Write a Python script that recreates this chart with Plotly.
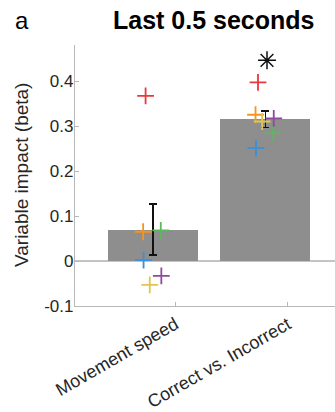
import plotly.graph_objects as go

categories = ["Movement speed", "Correct vs. Incorrect"]
bar_means = [0.070, 0.315]
bar_err = [0.057, 0.018]

subject_colors = ["#e8383d", "#f7941d", "#e3c54e", "#5cb85c", "#3f8fd2", "#8e4a9e"]
subject_jitter = [-0.065, -0.087, -0.028, 0.070, -0.083, 0.075]
movement_vals = [0.367, 0.065, -0.053, 0.068, 0.002, -0.033]
correct_vals = [0.397, 0.325, 0.310, 0.284, 0.251, 0.317]

star_y = 0.446
yticks = [-0.1, 0, 0.1, 0.2, 0.3, 0.4]
yticklabels = ["-0.1", "0", "0.1", "0.2", "0.3", "0.4"]

xpos = [1, 2]
txt = "#262626"
axc = "#b8b8b8"

fig = go.Figure()
fig.add_trace(go.Bar(
    x=xpos, y=bar_means, width=0.8,
    marker=dict(color="#8e8e8e", line=dict(width=0)),
    error_y=dict(type="data", array=bar_err, color="#111111", thickness=1.5, width=4),
    showlegend=False,
))
for i, c in enumerate(subject_colors):
    fig.add_trace(go.Scatter(
        x=[xpos[0] + subject_jitter[i], xpos[1] + subject_jitter[i]],
        y=[movement_vals[i], correct_vals[i]],
        mode="markers",
        marker=dict(symbol="cross-thin-open", size=12, line=dict(color=c, width=1.8), color=c),
        showlegend=False,
    ))
fig.add_trace(go.Scatter(
    x=[xpos[1] + 0.015], y=[star_y], mode="markers",
    marker=dict(symbol="asterisk-open", size=15, color="#111111",
                line=dict(color="#111111", width=1.5)),
    showlegend=False,
))

fig.update_layout(
    width=335, height=412,
    margin=dict(l=75, r=0, t=45, b=104),
    paper_bgcolor="white", plot_bgcolor="white",
    font=dict(family="Liberation Sans, Arial, sans-serif", color=txt, size=17),
    bargap=0,
    xaxis=dict(
        range=[0.307, 2.62],
        tickmode="array", tickvals=[xpos[0] + 0.2, xpos[1] + 0.2], ticktext=categories,
        tickangle=-30, ticks="inside", ticklen=4, tickcolor=axc,
        showline=True, linecolor=axc, linewidth=1.2,
        showgrid=False, zeroline=False,
        tickfont=dict(size=18, color=txt),
    ),
    yaxis=dict(
        range=[-0.1, 0.48],
        tickmode="array", tickvals=yticks, ticktext=yticklabels,
        ticks="inside", ticklen=4, tickcolor=axc,
        showline=True, linecolor=axc, linewidth=1.2,
        showgrid=False,
        zeroline=True, zerolinecolor="#c4c4c4", zerolinewidth=1.5,
        tickfont=dict(size=17, color=txt),
        ticklabelstandoff=-3,
    ),
    annotations=[
        dict(text="<b>Last 0.5 seconds</b>", x=213, y=20, xref="paper", yref="paper",
             showarrow=False, font=dict(size=25, color="#000000")),
        dict(text="a", x=22, y=20, xref="paper", yref="paper", showarrow=False,
             font=dict(size=24, color="#000000")),
        dict(text="Variable impact (beta)", x=21, y=176, xref="paper", yref="paper",
             showarrow=False, textangle=-90, font=dict(size=19, color=txt)),
    ],
)
# convert pixel positions for annotations to paper coords
pw = 335 - 75
ph = 412 - 45 - 104
for a in fig.layout.annotations:
    px, py = a.x, a.y
    a.x = (px - 75) / pw
    a.y = (412 - 104 - py) / ph
    a.xanchor = "center"
    a.yanchor = "middle"

fig.write_html("out.html")
